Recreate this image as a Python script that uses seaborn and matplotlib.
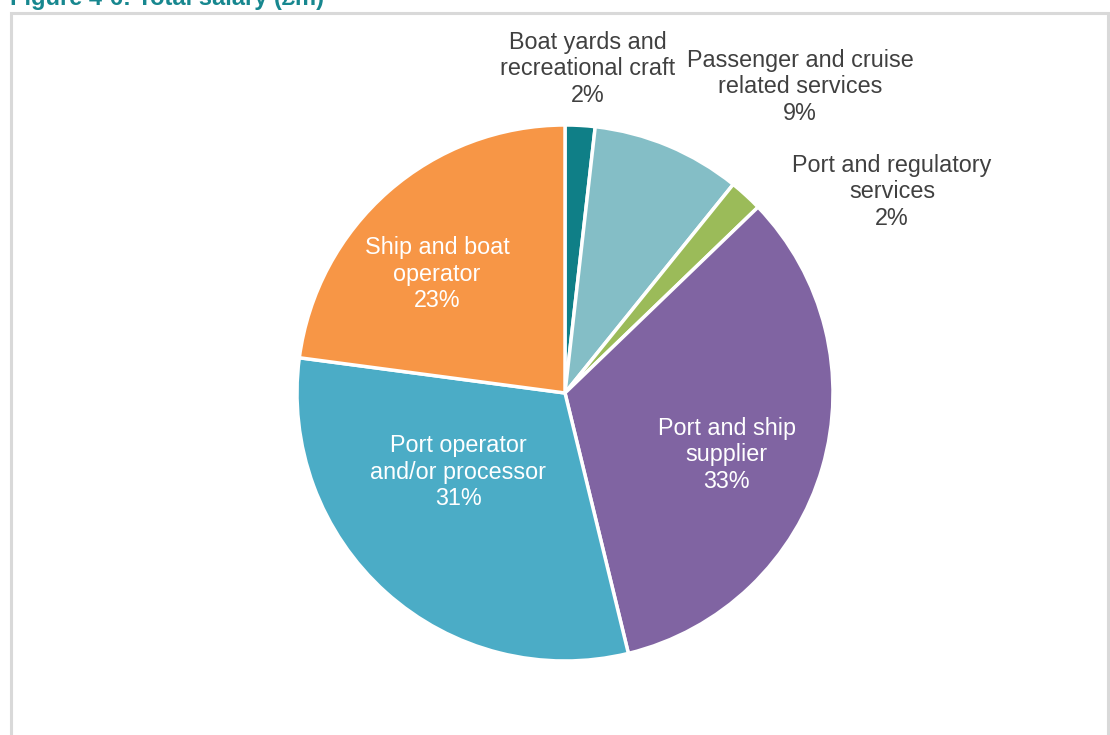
import matplotlib
matplotlib.use("Agg")
import matplotlib.pyplot as plt
import seaborn as sns
from matplotlib.patches import Rectangle

sns.set_theme(style="white")
plt.rcParams['font.family'] = ['Liberation Sans', 'DejaVu Sans']

# Data
categories = [
    "Boat yards and\nrecreational craft",
    "Passenger and cruise\nrelated services",
    "Port and regulatory\nservices",
    "Port and ship\nsupplier",
    "Port operator\nand/or processor",
    "Ship and boat\noperator",
]
shares = [1.8, 9.0, 2.0, 33.4, 30.9, 22.9]
colors = ["#0F7F87", "#84BEC6", "#9BBB59", "#8064A2", "#4BACC6", "#F79646"]
title = "Figure 4-6: Total salary (£m)"

# label placement (pie units, radius = 1) and colours
label_pos = [(0.086, 1.209), (0.877, 1.142), (1.220, 0.750),
             (0.604, -0.231), (-0.399, -0.295), (-0.478, 0.444)]
label_col = ["#404040", "#404040", "#404040", "white", "white", "white"]

W, H, DPI = 1110, 735, 100
fig = plt.figure(figsize=(W / DPI, H / DPI), dpi=DPI)
ax = fig.add_axes([0, 0, 1, 1])

R = 268.0
cx, cy = 565.0, 393.0
ax.pie(shares, colors=colors, startangle=90, counterclock=False,
       wedgeprops=dict(edgecolor="white", linewidth=2.5))
ax.set_xlim(-cx / R, (W - cx) / R)
ax.set_ylim(-(H - cy) / R, cy / R)
ax.set_aspect("equal")
ax.axis("off")

for cat, val, (x, y), c in zip(categories, shares, label_pos, label_col):
    ax.text(x, y, f"{cat}\n{val:.0f}%", ha="center", va="center",
            color=c, fontsize=16.8, linespacing=1.2)

# frame border
fig.patches.append(Rectangle((11 / W, -0.05), (1108 - 11) / W, (H - 13) / H + 0.05,
                             transform=fig.transFigure, fill=False,
                             edgecolor="#D9D9D9", linewidth=2.2, zorder=0))
# cropped title
fig.text(10 / W, 1 - 5 / H, title, ha="left", va="baseline",
         fontsize=17, fontweight="bold", color="#17878F")

fig.savefig("out.png", dpi=DPI)
